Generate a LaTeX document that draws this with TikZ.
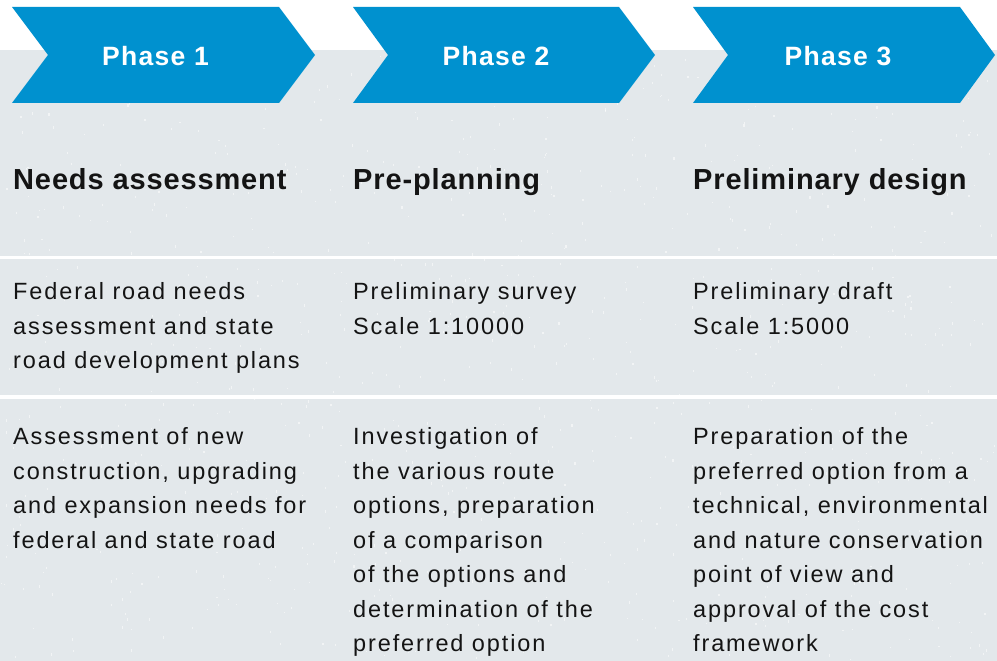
\documentclass[tikz,border=0pt]{standalone}
\usepackage{fontspec}
\setmainfont{Liberation Sans}
\newfontfamily\bodyfont[LetterSpace=8]{Liberation Sans}
\newfontfamily\headfont[LetterSpace=3]{Liberation Sans}
\newfontfamily\phasefont[LetterSpace=5]{Liberation Sans}
\definecolor{bggray}{HTML}{E3E8EB}
\definecolor{phaseblue}{HTML}{0091CF}
\definecolor{txtcol}{HTML}{141414}
\tikzset{
  chevron/.style={fill=phaseblue, draw=none},
  phaselabel/.style={text=white, inner sep=0pt, anchor=base,
    font=\phasefont\bfseries\fontsize{26.5}{30}\selectfont},
  heading/.style={text=txtcol, inner sep=0pt, anchor=base west,
    font=\headfont\bfseries\fontsize{29}{32}\selectfont},
  bodytext/.style={text=txtcol, inner sep=0pt, anchor=base west,
    font=\bodyfont\fontsize{23.5}{34.5}\selectfont},
  divider/.style={draw=white, line width=3.5pt},
  speck/.style={fill=white, opacity=0.55}
}
\newcommand{\blk}[1]{\parbox[t]{320pt}{\raggedright #1}}
\begin{document}
\begin{tikzpicture}[x=1pt,y=-1pt]
\useasboundingbox (0,0) rectangle (997,661);
\fill[white] (0,0) rectangle (997,661);
\fill[bggray] (0,50) rectangle (997,661);
% background speckle texture
\pgfmathsetseed{11}
\foreach \i in {1,...,900}{
  \pgfmathsetmacro\sx{rnd*995}
  \pgfmathsetmacro\sy{51+rnd*608}
  \pgfmathsetmacro\sh{0.8+rnd*2.2}
  \fill[speck] (\sx,\sy) rectangle ++(1.1,\sh);
}
\draw[divider] (0,257.5) -- (997,257.5);
\draw[divider] (0,397) -- (997,397);
% chevrons
\fill[chevron] (12,7) -- (279,7) -- (315,55) -- (279,103) -- (12,103) -- (48,55) -- cycle;
\fill[chevron] (353,7) -- (619,7) -- (655,55) -- (619,103) -- (353,103) -- (388,55) -- cycle;
\fill[chevron] (693,7) -- (960,7) -- (995,55) -- (960,103) -- (693,103) -- (728,55) -- cycle;
\node[phaselabel] (p1) at (155.5,66) {Phase 1};
\node[phaselabel] (p2) at (496,66) {Phase 2};
\node[phaselabel] (p3) at (838,66) {Phase 3};
% headings
\node[heading] (h1) at (13,189) {Needs assessment};
\node[heading] (h2) at (353,189) {Pre-planning};
\node[heading] (h3) at (693,189) {Preliminary design};
% row 2
\node[bodytext] (a1) at (13,299.5) {\blk{Federal road needs\\assessment and state\\road development plans}};
\node[bodytext] (a2) at (353,299.5) {\blk{Preliminary survey\\Scale 1:10000}};
\node[bodytext] (a3) at (693,299.5) {\blk{Preliminary draft\\Scale 1:5000}};
% row 3
\node[bodytext] (b1) at (13,444.5) {\blk{Assessment of new\\construction, upgrading\\and expansion needs for\\federal and state road}};
\node[bodytext] (b2) at (353,444.5) {\blk{Investigation of\\the various route\\options, preparation\\of a comparison\\of the options and\\determination of the\\preferred option}};
\node[bodytext] (b3) at (693,444.5) {\blk{Preparation of the\\preferred option from a\\technical, environmental\\and nature conservation\\point of view and\\approval of the cost\\framework}};
\end{tikzpicture}
\end{document}
